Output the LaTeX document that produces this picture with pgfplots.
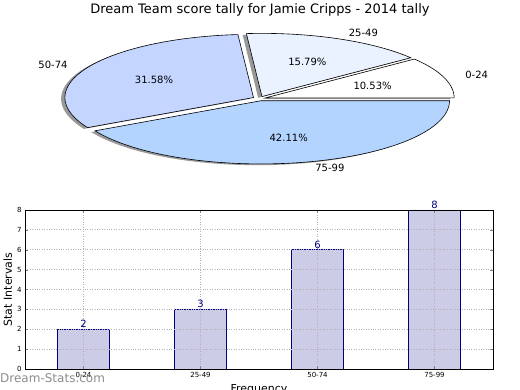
\documentclass[border=0pt]{standalone}
\usepackage{pgfplots}
\pgfplotsset{compat=1.18}
\usepackage{fontspec}
\setmainfont{DejaVu Sans}
\definecolor{cA}{RGB}{255,255,255}
\definecolor{cB}{RGB}{234,241,255}
\definecolor{cC}{RGB}{196,214,255}
\definecolor{cD}{RGB}{179,212,255}
\definecolor{barfill}{RGB}{204,204,230}
\definecolor{navy}{RGB}{0,0,128}
\newcommand\fs[1]{\fontsize{#1}{#1}\selectfont}
% #1 start angle, #2 end angle, #3 mid angle, #4 colour
\newcommand\shadowslice[3]{%
  \addplot[fill=black!40, draw=none, domain=#1:#2, samples=80, variable=\t]
    ({-0.02+0.035*cos(#3)+cos(\t)}, {-0.02+0.035*sin(#3)+sin(\t)})
    -- (axis cs:{-0.02+0.035*cos(#3)},{-0.02+0.035*sin(#3)}) -- cycle;}
\newcommand\slice[4]{%
  \addplot[fill=#4, draw=black, line width=0.6pt, domain=#1:#2, samples=80, variable=\t]
    ({0.035*cos(#3)+cos(\t)}, {0.035*sin(#3)+sin(\t)})
    -- (axis cs:{0.035*cos(#3)},{0.035*sin(#3)}) -- cycle;}
\begin{document}
\begin{tikzpicture}
\useasboundingbox (0pt,0pt) rectangle (520pt,390pt);
\clip (0pt,0pt) rectangle (520pt,390pt);
\node[font=\fs{13}] at (260pt,380pt) {Dream Team score tally for Jamie Cripps - 2014 tally};
% pie: counts 2,3,6,8 of 19
\begin{axis}[at={(259.3pt,291.4pt)}, anchor=center, width=377.2pt, height=126.4pt,
  scale only axis, xmin=-1, xmax=1, ymin=-1, ymax=1, hide axis, clip=false]
\shadowslice{0}{37.895}{18.947}
\shadowslice{37.895}{94.737}{66.316}
\shadowslice{94.737}{208.421}{151.579}
\shadowslice{208.421}{360}{284.211}
\slice{0}{37.895}{18.947}{cA}
\slice{37.895}{94.737}{66.316}{cB}
\slice{94.737}{208.421}{151.579}{cC}
\slice{208.421}{360}{284.211}{cD}
\node[font=\fs{10}] at (axis cs:0.6006,0.2062) {10.53\%};
\node[font=\fs{10}] at (axis cs:0.2551,0.5815) {15.79\%};
\node[font=\fs{10}] at (axis cs:-0.5585,0.3023) {31.58\%};
\node[font=\fs{10}] at (axis cs:0.1559,-0.6156) {42.11\%};
\node[font=\fs{10}, anchor=west] at (axis cs:1.0735,0.3685) {0-24};
\node[font=\fs{10}, anchor=west] at (axis cs:0.4559,1.0394) {25-49};
\node[font=\fs{10}, anchor=east] at (axis cs:-0.9982,0.5403) {50-74};
\node[font=\fs{10}, anchor=west] at (axis cs:0.2786,-1.1003) {75-99};
\end{axis}
% bars
\begin{axis}[at={(25pt,21pt)}, anchor=south west, width=468pt, height=159pt,
  scale only axis, xmin=-0.5, xmax=3.5, ymin=0, ymax=8,
  xtick={0,1,2,3}, xticklabels={0-24,25-49,50-74,75-99},
  ytick={0,1,...,8}, tick align=inside, major tick length=3pt,
  ticklabel style={font=\fs{7}}, /pgf/number format/assume math mode=true,
  grid=major, grid style={dash pattern=on 0.8pt off 1.6pt, black!30, line width=0.8pt},
  axis on top, axis line style={line width=0.8pt},
  ylabel={Stat Intervals}, xlabel={Frequency}, label style={font=\fs{11}},
  ylabel style={xshift=0pt, yshift=-2pt}]
\addplot[ybar, bar width=0.45, fill=barfill, draw=navy, line width=0.7pt,
  nodes near coords, nodes near coords style={font=\fs{10}, text=navy, inner sep=1pt}]
  coordinates {(0,2) (1,3) (2,6) (3,8)};
\end{axis}
\node[anchor=base west, font=\fs{12}, text=black!45, inner sep=0pt] at (0pt,7pt) {Dream-Stats.com};
\end{tikzpicture}
\end{document}
